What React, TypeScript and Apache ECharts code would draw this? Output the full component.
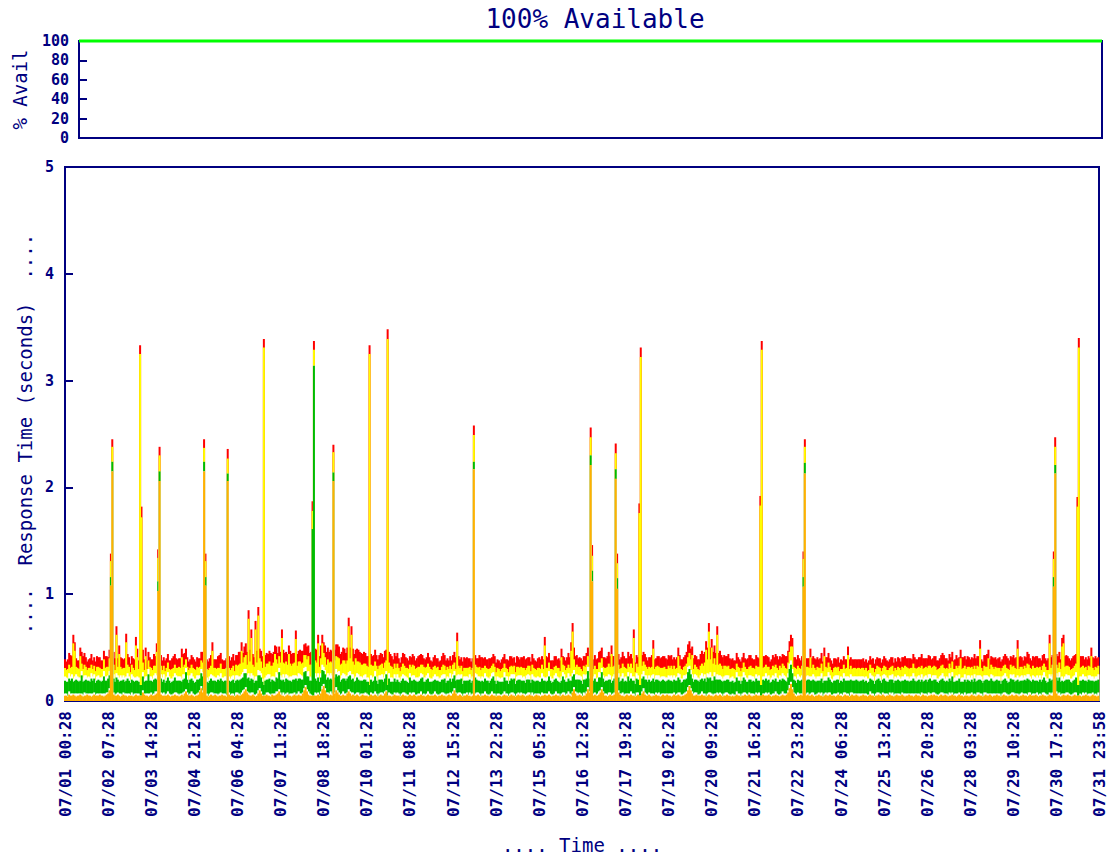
import React, { useEffect, useRef } from 'react';
import * as echarts from 'echarts';

const NAVY = '#000080';
const MONO = "'DejaVu Sans Mono', 'Liberation Mono', monospace";

// x-axis tick positions (hours since 07/01 00:28) and their labels
const tickHours = [0, 31, 62, 93, 124, 155, 186, 217, 248, 279, 310, 341, 372, 403, 434, 465, 496, 527, 558, 589, 620, 651, 682, 713, 743.5];
const tickLabels = ['07/01 00:28', '07/02 07:28', '07/03 14:28', '07/04 21:28', '07/06 04:28', '07/07 11:28', '07/08 18:28', '07/10 01:28', '07/11 08:28', '07/12 15:28', '07/13 22:28', '07/15 05:28', '07/16 12:28', '07/17 19:28', '07/19 02:28', '07/20 09:28', '07/21 16:28', '07/22 23:28', '07/24 06:28', '07/25 13:28', '07/26 20:28', '07/28 03:28', '07/29 10:28', '07/30 17:28', '07/31 23:58'];

// availability (%) over the month
const availHours = [0, 743.5];
const availPct = [100, 100];

// Hourly response-time components, hundredths of a second, one row per day (24 hours)
const orangeDays = [
  [5,5,4,6,5,5, 6,5,4,5,5,6, 5,4,5,5,6,5, 5,4,5,6,5,5],
  [5,6,5,5,4,5, 6,7,10,13,9,6, 5,5,6,5,4,5, 6,5,5,4,5,5],
  [5,4,5,6,5,5, 7,10,8,6,5,5, 4,5,6,5,5,6, 7,11,9,6,5,5],
  [5,5,6,5,4,5, 5,6,5,5,4,5, 6,5,7,9,6,5, 5,6,5,4,5,5],
  [6,9,12,8,6,5, 5,4,5,6,5,5, 6,5,4,5,5,6, 5,5,4,5,6,5],
  [5,5,4,5,6,5, 5,6,7,9,11,8, 6,5,5,6,5,4, 5,7,10,7,5,5],
  [5,6,5,5,4,6, 5,5,6,7,9,6, 5,5,4,5,6,5, 5,4,5,6,5,5],
  [6,5,5,7,10,13, 9,6,5,5,6,7, 5,5,6,5,7,11, 14,10,7,6,5,6],
  [5,6,7,10,8,6, 5,5,6,5,5,7, 9,7,5,6,5,5, 6,5,4,5,6,5],
  [5,5,4,5,6,5, 5,6,5,4,5,6, 5,5,7,9,6,5, 5,4,5,6,5,5],
  [5,4,5,6,5,5, 4,5,6,5,5,6, 5,4,5,5,6,5, 5,4,5,6,5,5],
  [5,5,6,5,4,5, 5,6,5,5,4,5, 6,5,5,7,10,7, 5,5,6,5,4,5],
  [5,6,5,5,4,5, 6,5,5,6,5,4, 5,5,6,5,5,4, 5,6,5,5,4,5],
  [5,5,4,5,6,5, 5,4,5,6,5,5, 4,5,6,5,5,6, 5,4,5,5,6,5],
  [5,4,5,6,5,5, 4,5,5,6,5,5, 6,5,4,5,5,6, 5,5,4,5,6,5],
  [5,5,6,5,4,8, 11,7,5,5,6,5, 4,5,5,7,11,8, 5,4,5,6,5,5],
  [6,8,11,8,5,5, 4,5,6,5,5,6, 7,10,8,6,5,5, 4,5,6,5,5,6],
  [5,5,4,5,6,5, 5,7,9,6,5,5, 6,5,4,5,5,6, 5,5,4,5,6,5],
  [5,6,5,5,4,5, 6,5,5,6,5,4, 5,5,6,7,10,14, 10,7,5,5,6,5],
  [5,5,6,5,5,4, 5,6,5,5,4,5, 6,5,5,6,5,4, 5,5,6,5,5,4],
  [5,4,5,6,5,5, 4,5,5,6,5,5, 6,5,4,5,5,6, 5,5,4,5,6,5],
  [5,5,6,5,4,5, 5,6,5,5,4,5, 6,5,5,6,8,12, 16,11,7,5,4,5],
  [5,6,5,5,4,5, 6,5,5,6,5,4, 5,5,6,5,5,4, 5,6,5,5,6,5],
  [5,5,4,5,6,5, 5,4,5,6,5,5, 4,5,6,5,5,6, 5,4,5,5,6,5],
  [5,4,5,6,5,5, 4,5,5,6,5,5, 6,5,4,5,5,6, 5,5,4,5,6,5],
  [5,5,6,5,4,5, 5,6,5,5,4,5, 6,5,5,4,5,6, 5,5,4,5,5,6],
  [5,6,5,5,4,5, 6,5,5,6,5,4, 5,5,6,5,5,4, 5,6,5,5,4,5],
  [5,5,4,5,6,5, 5,4,5,6,5,5, 4,5,6,5,5,6, 5,4,5,5,6,5],
  [5,4,5,6,5,5, 4,5,5,6,5,5, 6,5,4,5,5,6, 5,5,4,5,6,5],
  [5,5,6,5,4,5, 5,6,5,5,4,5, 6,5,5,7,10,7, 5,5,4,5,6,5],
  [5,6,5,5,4,5, 6,5,5,6,5,4, 5,5,6,5,5,4, 5,6,5,5,4,5],
];

const gapLowDays = [
  [2,2,1,3,2,2, 1,2,3,2,2,1, 2,2,3,2,1,2, 2,3,2,2,1,2],
  [2,1,2,2,3,2, 2,1,2,2,3,2, 1,2,2,2,3,1, 2,2,2,3,2,1],
  [3,2,2,1,2,2, 2,3,2,1,2,2, 3,2,2,1,2,3, 2,2,1,2,2,3],
  [1,2,3,2,2,1, 2,2,3,2,2,2, 1,3,2,2,2,1, 2,3,2,2,1,2],
  [2,1,2,2,3,2, 2,1,2,2,3,2, 1,2,2,2,3,1, 2,2,2,3,2,1],
  [2,2,1,3,2,2, 1,2,3,2,2,1, 2,2,3,2,1,2, 2,3,2,2,1,2],
  [1,2,3,2,2,1, 2,2,3,2,2,2, 1,3,2,2,2,1, 2,3,2,2,1,2],
  [3,2,2,1,2,2, 2,3,2,1,2,2, 3,2,2,1,2,3, 2,2,1,2,2,3],
  [2,2,1,3,2,2, 1,2,3,2,2,1, 2,2,3,2,1,2, 2,3,2,2,1,2],
  [3,2,2,1,2,2, 2,3,2,1,2,2, 3,2,2,1,2,3, 2,2,1,2,2,3],
  [2,1,2,2,3,2, 2,1,2,2,3,2, 1,2,2,2,3,1, 2,2,2,3,2,1],
  [1,2,3,2,2,1, 2,2,3,2,2,2, 1,3,2,2,2,1, 2,3,2,2,1,2],
  [2,2,1,3,2,2, 1,2,3,2,2,1, 2,2,3,2,1,2, 2,3,2,2,1,2],
  [2,1,2,2,3,2, 2,1,2,2,3,2, 1,2,2,2,3,1, 2,2,2,3,2,1],
  [3,2,2,1,2,2, 2,3,2,1,2,2, 3,2,2,1,2,3, 2,2,1,2,2,3],
  [1,2,3,2,2,1, 2,2,3,2,2,2, 1,3,2,2,2,1, 2,3,2,2,1,2],
  [3,2,2,1,2,2, 2,3,2,1,2,2, 3,2,2,1,2,3, 2,2,1,2,2,3],
  [2,2,1,3,2,2, 1,2,3,2,2,1, 2,2,3,2,1,2, 2,3,2,2,1,2],
  [2,1,2,2,3,2, 2,1,2,2,3,2, 1,2,2,2,3,1, 2,2,2,3,2,1],
  [1,2,3,2,2,1, 2,2,3,2,2,2, 1,3,2,2,2,1, 2,3,2,2,1,2],
  [2,2,1,3,2,2, 1,2,3,2,2,1, 2,2,3,2,1,2, 2,3,2,2,1,2],
  [3,2,2,1,2,2, 2,3,2,1,2,2, 3,2,2,1,2,3, 2,2,1,2,2,3],
  [2,1,2,2,3,2, 2,1,2,2,3,2, 1,2,2,2,3,1, 2,2,2,3,2,1],
  [1,2,3,2,2,1, 2,2,3,2,2,2, 1,3,2,2,2,1, 2,3,2,2,1,2],
  [2,2,1,3,2,2, 1,2,3,2,2,1, 2,2,3,2,1,2, 2,3,2,2,1,2],
  [2,1,2,2,3,2, 2,1,2,2,3,2, 1,2,2,2,3,1, 2,2,2,3,2,1],
  [3,2,2,1,2,2, 2,3,2,1,2,2, 3,2,2,1,2,3, 2,2,1,2,2,3],
  [1,2,3,2,2,1, 2,2,3,2,2,2, 1,3,2,2,2,1, 2,3,2,2,1,2],
  [2,1,2,2,3,2, 2,1,2,2,3,2, 1,2,2,2,3,1, 2,2,2,3,2,1],
  [2,2,1,3,2,2, 1,2,3,2,2,1, 2,2,3,2,1,2, 2,3,2,2,1,2],
  [3,2,2,1,2,2, 2,3,2,1,2,2, 3,2,2,1,2,3, 2,2,1,2,2,3],
];

const greenDays = [
  [12,11,13,12,12,14, 11,12,13,12,11,12, 17,12,11,13,12,12, 11,14,12,13,11,12],
  [13,12,11,12,16,12, 11,13,12,12,11,13, 12,15,12,11,12,13, 12,11,12,14,12,11],
  [12,13,11,12,12,11, 14,12,13,11,12,12, 18,12,11,12,13,12, 11,12,12,13,11,12],
  [11,12,13,12,11,12, 12,14,11,12,13,12, 11,12,12,16,12,11, 13,12,12,11,12,13],
  [12,11,12,13,12,15, 11,12,12,13,11,12, 12,11,14,12,13,12, 11,12,13,12,11,12],
  [12,13,12,11,12,12, 14,13,12,15,13,12, 14,12,13,12,11,13, 12,14,12,13,12,12],
  [13,12,12,14,12,13, 12,11,13,12,16,12, 13,12,12,14,12,13, 12,11,13,12,15,12],
  [12,14,13,12,15,13, 12,14,12,13,12,17, 13,12,14,12,13,15, 12,13,12,14,13,12],
  [13,12,14,12,13,16, 12,13,12,14,12,13, 12,15,12,13,12,12, 14,12,13,12,12,13],
  [12,11,12,13,12,11, 12,14,12,11,13,12, 12,11,12,15,12,13, 11,12,12,13,11,12],
  [11,12,12,13,11,12, 12,11,14,12,11,12, 13,12,11,12,12,16, 11,12,13,12,11,12],
  [12,12,11,12,13,12, 11,12,12,14,11,12, 12,13,11,12,12,11, 13,12,12,14,11,12],
  [12,11,13,12,11,12, 12,15,12,11,12,13, 12,11,12,12,13,11, 12,12,16,12,11,12],
  [11,12,12,11,13,12, 12,11,12,13,12,14, 11,12,12,13,11,12, 12,11,13,12,12,11],
  [12,13,11,12,12,11, 12,13,12,12,11,12, 14,12,11,12,13,12, 12,11,12,12,15,12],
  [12,11,12,12,13,14, 12,11,12,13,12,12, 11,12,13,12,15,12, 11,12,12,13,12,11],
  [13,12,14,12,11,12, 13,12,12,11,12,13, 14,12,12,11,12,13, 12,12,11,16,12,12],
  [12,12,11,13,12,12, 14,12,11,12,13,12, 12,11,12,14,12,12, 13,11,12,12,13,12],
  [11,12,13,12,12,11, 12,13,12,14,12,11, 12,13,12,12,14,15, 13,12,11,12,12,13],
  [12,13,12,12,14,13, 15,13,14,12,13,16, 13,12,13,12,12,13, 12,11,12,13,12,12],
  [12,11,12,13,12,12, 11,12,14,12,11,12, 12,13,11,12,12,13, 12,11,12,12,13,12],
  [13,12,12,11,12,13, 12,12,11,12,14,12, 12,13,12,11,12,15, 16,13,12,12,11,12],
  [12,12,13,12,11,12, 12,14,12,11,12,13, 12,12,11,12,13,12, 12,11,12,14,12,12],
  [11,12,12,13,12,11, 12,12,13,11,12,12, 14,12,11,12,12,13, 12,11,12,12,13,11],
  [12,11,12,12,13,12, 11,12,12,13,12,11, 12,14,12,11,12,12, 13,12,11,12,12,13],
  [12,12,11,12,13,12, 12,11,12,12,14,12, 11,12,13,12,12,11, 12,13,12,12,14,12],
  [11,12,13,12,11,12, 12,13,12,11,12,12, 13,12,15,12,11,12, 12,13,12,11,12,12],
  [12,13,12,11,12,12, 14,12,11,12,13,12, 12,11,12,13,12,12, 14,12,11,12,13,12],
  [12,11,12,12,13,12, 11,12,14,12,12,11, 12,13,12,12,11,12, 13,12,15,12,11,12],
  [13,12,12,11,12,13, 12,12,14,12,11,12, 13,12,12,11,12,13, 12,14,12,12,11,12],
  [12,12,13,12,11,12, 12,14,12,11,12,13, 12,12,11,12,13,12, 12,11,12,12,13,12],
];

const gapHighDays = [
  [4,4,3,5,4,4, 3,4,5,4,4,3, 4,4,5,4,3,4, 4,5,4,4,3,4],
  [4,3,4,4,5,4, 4,3,4,4,5,4, 3,4,4,4,5,3, 4,4,4,5,4,3],
  [5,4,4,3,4,4, 4,5,4,3,4,4, 5,4,4,3,4,5, 4,4,3,4,4,5],
  [3,4,5,4,4,3, 4,4,5,4,4,4, 3,5,4,4,4,3, 4,5,4,4,3,4],
  [4,3,4,4,5,4, 4,3,4,4,5,4, 3,4,4,4,5,3, 4,4,4,5,4,3],
  [4,4,3,5,4,4, 3,4,5,4,4,3, 4,4,5,4,3,4, 4,5,4,4,3,4],
  [3,4,5,4,4,3, 4,4,5,4,4,4, 3,5,4,4,4,3, 4,5,4,4,3,4],
  [5,4,4,3,4,4, 4,5,4,3,4,4, 5,4,4,3,4,5, 4,4,3,4,4,5],
  [4,4,3,5,4,4, 3,4,5,4,4,3, 4,4,5,4,3,4, 4,5,4,4,3,4],
  [5,4,4,3,4,4, 4,5,4,3,4,4, 5,4,4,3,4,5, 4,4,3,4,4,5],
  [4,3,4,4,5,4, 4,3,4,4,5,4, 3,4,4,4,5,3, 4,4,4,5,4,3],
  [3,4,5,4,4,3, 4,4,5,4,4,4, 3,5,4,4,4,3, 4,5,4,4,3,4],
  [4,4,3,5,4,4, 3,4,5,4,4,3, 4,4,5,4,3,4, 4,5,4,4,3,4],
  [4,3,4,4,5,4, 4,3,4,4,5,4, 3,4,4,4,5,3, 4,4,4,5,4,3],
  [5,4,4,3,4,4, 4,5,4,3,4,4, 5,4,4,3,4,5, 4,4,3,4,4,5],
  [3,4,5,4,4,3, 4,4,5,4,4,4, 3,5,4,4,4,3, 4,5,4,4,3,4],
  [5,4,4,3,4,4, 4,5,4,3,4,4, 5,4,4,3,4,5, 4,4,3,4,4,5],
  [4,4,3,5,4,4, 3,4,5,4,4,3, 4,4,5,4,3,4, 4,5,4,4,3,4],
  [4,3,4,4,5,4, 4,3,4,4,5,4, 3,4,4,4,5,3, 4,4,4,5,4,3],
  [3,4,5,4,4,3, 4,4,5,4,4,4, 3,5,4,4,4,3, 4,5,4,4,3,4],
  [4,4,3,5,4,4, 3,4,5,4,4,3, 4,4,5,4,3,4, 4,5,4,4,3,4],
  [5,4,4,3,4,4, 4,5,4,3,4,4, 5,4,4,3,4,5, 4,4,3,4,4,5],
  [4,3,4,4,5,4, 4,3,4,4,5,4, 3,4,4,4,5,3, 4,4,4,5,4,3],
  [3,4,5,4,4,3, 4,4,5,4,4,4, 3,5,4,4,4,3, 4,5,4,4,3,4],
  [4,4,3,5,4,4, 3,4,5,4,4,3, 4,4,5,4,3,4, 4,5,4,4,3,4],
  [4,3,4,4,5,4, 4,3,4,4,5,4, 3,4,4,4,5,3, 4,4,4,5,4,3],
  [5,4,4,3,4,4, 4,5,4,3,4,4, 5,4,4,3,4,5, 4,4,3,4,4,5],
  [3,4,5,4,4,3, 4,4,5,4,4,4, 3,5,4,4,4,3, 4,5,4,4,3,4],
  [4,3,4,4,5,4, 4,3,4,4,5,4, 3,4,4,4,5,3, 4,4,4,5,4,3],
  [4,4,3,5,4,4, 3,4,5,4,4,3, 4,4,5,4,3,4, 4,5,4,4,3,4],
  [5,4,4,3,4,4, 4,5,4,3,4,4, 5,4,4,3,4,5, 4,4,3,4,4,5],
];

const yellowDays = [
  [8,7,9,8,8,7, 8,9,7,8,8,9, 7,8,10,8,7,8, 9,8,7,8,8,9],
  [8,9,8,7,8,8, 9,8,12,10,8,9, 8,7,8,9,8,8, 7,9,8,8,9,7],
  [9,8,7,8,9,8, 8,7,9,8,8,7, 8,9,8,8,9,7, 8,8,9,8,7,8],
  [8,8,9,7,8,9, 8,8,7,8,9,8, 8,7,9,8,8,9, 7,8,8,9,8,8],
  [7,8,8,9,8,7, 8,9,8,8,7,8, 9,8,7,8,9,8, 8,7,8,9,8,8],
  [8,9,8,10,9,11, 12,10,9,11,13,10, 12,14,11,10,12,11, 13,10,12,11,10,9],
  [10,11,10,12,11,10, 13,11,12,10,11,12, 10,11,13,12,10,11, 12,10,11,12,11,10],
  [11,12,11,13,12,11, 12,14,11,12,13,11, 12,13,12,11,14,12, 13,12,11,13,12,11],
  [12,11,13,12,14,12, 13,11,12,13,12,14, 13,12,11,12,13,12, 11,12,13,11,12,11],
  [10,11,10,9,10,11, 10,9,10,11,9,10, 10,9,11,10,9,10, 11,10,9,10,9,10],
  [9,8,9,10,9,8, 9,10,8,9,10,9, 8,9,10,9,8,9, 10,9,8,9,10,9],
  [8,9,8,8,9,8, 7,8,9,8,8,9, 8,7,8,9,8,8, 9,8,7,8,9,8],
  [8,8,9,7,8,8, 9,8,7,8,9,8, 8,9,7,8,8,9, 8,7,8,9,8,8],
  [8,7,8,9,8,8, 7,8,9,8,7,8, 8,9,8,7,8,9, 8,8,7,8,9,8],
  [9,8,8,7,8,9, 8,8,7,8,9,8, 8,7,9,8,8,7, 8,9,8,8,7,8],
  [8,9,8,8,7,9, 10,8,9,8,8,7, 9,8,8,9,10,8, 9,8,7,8,9,8],
  [9,10,9,8,9,8, 9,10,8,9,9,8, 10,9,8,9,8,9, 10,8,9,8,9,9],
  [8,9,8,9,8,9, 8,8,9,10,8,9, 8,9,8,8,9,8, 9,8,9,8,8,9],
  [8,8,9,8,9,8, 9,8,8,9,8,9, 8,8,9,10,9,12, 10,9,8,9,8,8],
  [8,9,9,10,11,12, 13,11,12,14,12,13, 11,12,10,11,10,9, 10,9,8,9,9,8],
  [8,9,8,8,9,8, 9,8,9,8,8,9, 8,9,8,8,9,8, 9,8,8,9,8,9],
  [8,9,8,9,8,9, 9,8,9,8,9,8, 9,9,8,9,10,11, 13,10,9,8,9,8],
  [8,8,9,8,8,9, 8,8,9,8,9,8, 8,9,8,8,9,8, 8,9,8,9,8,8],
  [7,8,8,7,8,8, 7,8,8,7,8,7, 8,8,7,8,8,7, 8,8,7,8,8,7],
  [8,7,8,8,7,8, 8,7,8,7,8,8, 7,8,8,7,8,7, 8,8,7,8,7,8],
  [8,8,9,8,8,9, 8,9,8,8,9,8, 9,8,8,9,8,9, 8,8,9,8,8,9],
  [8,9,8,8,9,8, 9,8,8,9,8,8, 9,8,10,9,8,9, 8,8,9,8,9,8],
  [9,8,8,9,8,9, 8,8,9,8,9,8, 8,9,8,8,9,8, 9,8,8,9,8,8],
  [8,9,8,9,8,8, 9,8,9,8,8,9, 8,9,8,9,8,8, 9,8,10,9,8,9],
  [9,8,9,8,9,8, 8,9,8,9,8,8, 9,8,9,8,9,8, 8,9,8,9,8,9],
  [8,9,8,8,9,8, 9,8,8,9,8,9, 8,8,9,8,9,8, 9,8,8,9,8,8],
];

const redDays = [
  [8,8,9,11,12,10, 9,8,8,7,8,9, 11,12,11,9,8,8, 9,10,8,8,9,10],
  [9,10,8,8,9,11, 10,9,8,9,10,12, 11,9,8,8,9,10, 8,9,11,10,9,8],
  [8,9,10,9,8,8, 10,11,12,10,9,8, 8,9,8,10,11,9, 8,8,9,10,9,8],
  [10,9,8,8,9,10, 11,10,9,8,8,9, 10,12,11,10,9,8, 8,9,10,9,8,9],
  [9,8,8,10,11,10, 9,8,9,10,9,8, 8,9,11,12,10,9, 8,8,9,10,11,9],
  [10,11,10,9,10,12, 11,10,9,10,11,12, 10,11,12,10,9,10, 11,10,9,10,11,10],
  [11,10,9,10,12,11, 10,11,12,10,9,10, 11,12,10,9,10,11, 12,11,10,9,10,11],
  [10,11,12,11,10,11, 12,10,11,12,11,10, 11,12,11,10,12,11, 10,11,12,11,10,11],
  [11,12,10,11,12,11, 10,11,12,11,10,12, 11,10,11,12,10,11, 12,11,10,11,10,11],
  [10,9,10,11,10,9, 10,11,10,9,10,11, 9,10,11,10,9,10, 11,10,9,10,11,10],
  [9,8,9,10,11,10, 9,8,8,9,10,9, 8,9,10,11,10,9, 8,8,9,10,9,8],
  [8,9,10,9,8,8, 9,10,11,10,9,8, 8,9,8,9,10,11, 10,9,8,8,9,10],
  [9,10,9,8,8,9, 10,9,8,9,11,12, 10,9,8,8,9,10, 9,8,9,10,9,8],
  [8,8,9,10,9,8, 9,11,10,9,8,8, 9,10,9,8,9,10, 11,10,9,8,8,9],
  [10,9,8,8,9,10, 9,8,9,10,11,10, 9,8,8,9,10,9, 8,9,10,9,8,8],
  [9,10,11,10,9,10, 11,10,9,8,9,10, 10,9,10,11,12,10, 9,8,9,10,9,10],
  [10,11,10,9,10,9, 10,11,10,9,10,9, 11,12,10,9,10,11, 10,9,10,11,10,9],
  [9,10,9,8,9,10, 11,10,9,10,9,8, 9,10,11,10,9,8, 9,10,9,10,11,10],
  [10,9,10,11,10,9, 8,9,10,11,10,9, 10,9,10,11,12,11, 10,9,10,9,10,9],
  [10,11,12,11,10,12, 11,12,11,10,11,12, 11,10,11,12,10,11, 10,9,10,11,10,9],
  [9,8,9,10,9,8, 9,10,9,8,9,10, 11,10,9,8,9,10, 9,8,9,10,11,10],
  [9,10,9,8,9,10, 9,10,11,10,9,10, 9,10,11,12,11,10, 11,10,9,10,9,10],
  [9,8,9,10,9,8, 8,9,10,9,8,9, 10,9,8,9,10,9, 8,9,10,9,8,9],
  [8,9,8,8,9,8, 9,8,8,9,8,8, 9,8,9,8,8,9, 8,8,9,8,9,8],
  [8,8,9,8,8,9, 8,9,8,8,9,8, 8,9,8,9,8,8, 9,8,8,9,8,9],
  [9,8,9,10,9,8, 9,10,9,8,9,10, 9,8,9,10,11,10, 9,8,9,10,9,8],
  [8,9,10,9,8,9, 10,11,12,10,9,8, 9,10,9,8,9,10, 9,8,9,11,10,9],
  [9,10,9,8,9,10, 11,10,9,10,9,8, 9,10,11,12,10,9, 8,9,10,9,8,9],
  [10,9,8,9,10,11, 10,9,8,9,10,9, 11,12,11,10,9,8, 9,10,11,10,9,8],
  [9,10,11,10,9,8, 9,10,9,8,9,11, 12,10,9,8,9,10, 11,10,9,8,9,10],
  [10,9,8,9,10,11, 10,9,8,9,11,10, 9,8,9,10,9,8, 9,10,11,10,9,8],
];

// Large spikes: hour index and component sizes (hundredths of a second)
const spikeHour =   [33, 34, 54, 55, 67, 68, 100, 101, 117, 143, 178, 179, 193, 219, 232, 294, 378, 379, 396, 397, 413, 414, 500, 501, 531, 532, 711, 712, 728, 729];
const spikeOrange = [108, 215, 5, 5, 103, 206, 215, 108, 206, 5, 5, 5, 206, 5, 5, 217, 221, 112, 208, 105, 5, 5, 5, 5, 107, 213, 107, 213, 5, 5];
const spikeGreen =  [8, 9, 10, 10, 9, 9, 9, 8, 7, 10, 156, 309, 8, 10, 10, 7, 9, 10, 9, 10, 10, 10, 10, 10, 9, 10, 9, 8, 10, 10];
const spikeYellow = [15, 14, 310, 157, 22, 15, 13, 15, 14, 316, 17, 15, 19, 310, 324, 25, 17, 14, 15, 14, 161, 307, 168, 314, 17, 15, 17, 17, 167, 316];
const spikeRed =    [7, 7, 8, 10, 8, 8, 8, 7, 9, 8, 9, 8, 7, 8, 9, 9, 9, 10, 9, 9, 9, 9, 9, 8, 7, 7, 7, 9, 9, 9];

// Small spikes: hour index and total height (hundredths of a second)
const smallSpikeHour = [6, 7, 11, 28, 37, 39, 44, 51, 52, 58, 66, 84, 106, 127, 132, 134, 137, 139, 151, 156, 161, 166, 182, 185, 204, 206, 209, 282, 345, 357, 364, 365, 376, 393, 409, 423, 441, 451, 461, 463, 465, 469, 523, 536, 546, 563, 644, 658, 664, 685, 708, 717, 718, 738];
const smallSpikeTop = [62, 55, 50, 47, 70, 52, 63, 60, 49, 50, 54, 49, 55, 55, 85, 67, 75, 88, 52, 67, 52, 66, 62, 62, 78, 70, 48, 64, 60, 49, 55, 73, 50, 52, 67, 57, 50, 51, 56, 73, 58, 70, 59, 49, 50, 51, 48, 57, 48, 57, 62, 59, 62, 50];

function buildSeries() {
  const hours = 31 * 24;
  const o: number[] = [], g1: number[] = [], gr: number[] = [], g2: number[] = [], ye: number[] = [], re: number[] = [];
  for (let i = 0; i < hours; i++) {
    const d = Math.floor(i / 24), h = i % 24;
    o.push(orangeDays[d][h]); g1.push(gapLowDays[d][h]); gr.push(greenDays[d][h]);
    g2.push(gapHighDays[d][h]); ye.push(yellowDays[d][h]); re.push(redDays[d][h]);
  }
  smallSpikeHour.forEach((idx, k) => {
    const base = o[idx] + g1[idx] + gr[idx] + g2[idx];
    re[idx] = 8;
    ye[idx] = Math.max(ye[idx], smallSpikeTop[k] - base - 8);
  });
  spikeHour.forEach((idx, k) => {
    o[idx] = spikeOrange[k]; g1[idx] = 0; gr[idx] = spikeGreen[k]; g2[idx] = 0;
    ye[idx] = spikeYellow[k]; re[idx] = spikeRed[k];
  });
  const tops = { orange: [] as number[][], low: [] as number[][], green: [] as number[][], high: [] as number[][], yellow: [] as number[][], red: [] as number[][] };
  for (let i = 0; i < hours; i++) {
    let c = o[i]; tops.orange.push([i, c / 100]);
    c += g1[i]; tops.low.push([i, c / 100]);
    c += gr[i]; tops.green.push([i, c / 100]);
    c += g2[i]; tops.high.push([i, c / 100]);
    c += ye[i]; tops.yellow.push([i, c / 100]);
    c += re[i]; tops.red.push([i, c / 100]);
  }
  return tops;
}

export default function App() {
  const ref = useRef<HTMLDivElement>(null);
  useEffect(() => {
    if (!ref.current) return;
    const chart = echarts.init(ref.current, undefined, { renderer: 'svg' });
    const t = buildSeries();
    const bar = (name: string, color: string, data: number[][]) => ({
      type: 'bar', name, xAxisIndex: 1, yAxisIndex: 1, barWidth: 2, barGap: '-100%',
      data, itemStyle: { color }, silent: true, large: false,
    });
    const labelStyle = { fontFamily: MONO, fontWeight: 'bold', fontSize: 15, color: NAVY };
    const nameStyle = { fontFamily: MONO, fontSize: 19, color: NAVY };
    const option: any = {
      animation: false,
      backgroundColor: '#ffffff',
      title: {
        text: '100% Available', left: 590, top: 1, textAlign: 'center',
        textStyle: { fontFamily: MONO, fontSize: 26, fontWeight: 'normal', color: NAVY },
      },
      grid: [
        { left: 79, top: 41, width: 1023, height: 97, show: true, borderColor: NAVY, borderWidth: 2 },
        { left: 65, top: 167, width: 1037, height: 536, show: true, borderColor: NAVY, borderWidth: 2 },
      ],
      xAxis: [
        { gridIndex: 0, type: 'value', min: 0, max: 743.5, axisLine: { show: false }, axisTick: { show: false }, axisLabel: { show: false }, splitLine: { show: false } },
        {
          gridIndex: 1, type: 'value', min: 0, max: 743.5, interval: 31,
          axisLine: { show: false },
          axisTick: { show: true, inside: true, length: 4, customValues: tickHours, lineStyle: { color: NAVY, width: 2 } },
          axisLabel: {
            ...labelStyle, fontSize: 16, rotate: 90, margin: 10, customValues: tickHours,
            formatter: (v: number) => { const k = tickHours.findIndex((x) => Math.abs(x - v) < 1e-6); return k >= 0 ? tickLabels[k] : ''; },
          },
          splitLine: { show: false },
          name: '.... Time ....', nameLocation: 'middle', nameGap: 134, nameTextStyle: nameStyle,
        },
      ],
      yAxis: [
        {
          gridIndex: 0, type: 'value', min: 0, max: 100, interval: 20,
          axisLine: { show: false },
          axisTick: { show: true, inside: true, length: 8, lineStyle: { color: NAVY, width: 2 } },
          axisLabel: { ...labelStyle, margin: 10 },
          splitLine: { show: false },
          name: '% Avail', nameLocation: 'middle', nameGap: 50, nameTextStyle: nameStyle,
        },
        {
          gridIndex: 1, type: 'value', min: 0, max: 5, interval: 1,
          axisLine: { show: false },
          axisTick: { show: true, inside: true, length: 8, lineStyle: { color: NAVY, width: 2 } },
          axisLabel: { ...labelStyle, margin: 11 },
          splitLine: { show: false },
          name: '....  Response Time (seconds)  ....', nameLocation: 'middle', nameGap: 26, nameTextStyle: nameStyle,
        },
      ],
      series: [
        {
          type: 'line', xAxisIndex: 0, yAxisIndex: 0, symbol: 'none', clip: false, silent: true,
          data: availHours.map((h, i) => [h, availPct[i]]),
          lineStyle: { color: '#00ff00', width: 3 }, z: 5,
        },
        bar('Total', '#ff0000', t.red),
        bar('Yellow', '#ffff00', t.yellow),
        bar('GapHigh', '#ffffff', t.high),
        bar('Green', '#00bb00', t.green),
        bar('GapLow', '#ffffff', t.low),
        bar('Orange', '#ffb000', t.orange),
      ],
    };
    chart.setOption(option);
    return () => chart.dispose();
  }, []);
  return <div ref={ref} style={{ position: 'absolute', left: 0, top: 0, width: 1107, height: 859, background: '#fff' }} />;
}
